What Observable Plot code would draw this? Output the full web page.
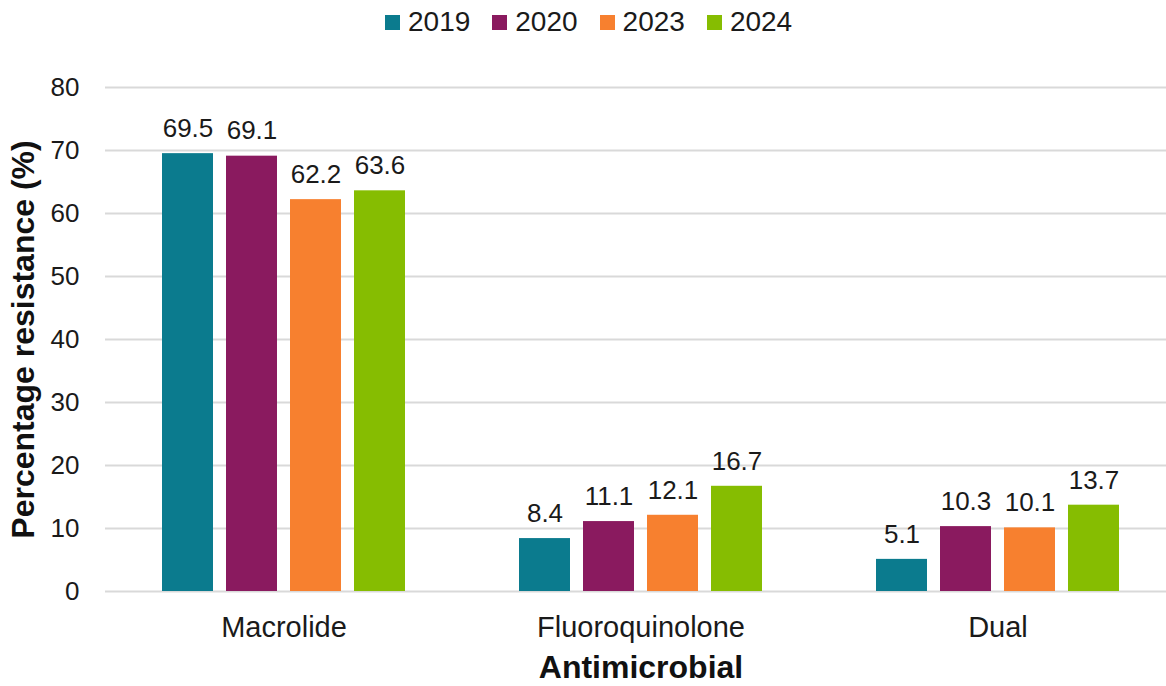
<!DOCTYPE html>
<html>
<head>
<meta charset="utf-8">
<script src="https://cdn.jsdelivr.net/npm/d3@7"></script>
<script src="https://cdn.jsdelivr.net/npm/@observablehq/plot@0.6"></script>
<style>
  html, body { margin: 0; padding: 0; background: #fff; overflow: hidden; }
  body { width: 1166px; height: 686px; font-family: "Liberation Sans", Arial, sans-serif; }
  #legend { height: 50px; display: flex; align-items: center; padding-left: 385px; padding-top: 8px; box-sizing: border-box; }
  div.lg-swatches .lg-swatch { margin-right: 22px !important; }
  div.lg-swatches .lg-swatch > svg { margin-right: 8px !important; }
  #xtitle { margin-left: 105px; width: 1072px; text-align: center; height: 41px; line-height: 44px;
            font-weight: bold; font-size: 32px; color: #111; }
  svg { overflow: visible; }
</style>
</head>
<body>
<div id="legend"></div>
<div id="chart"></div>
<div id="xtitle"></div>
<script>
// ---- data ----
const categories = ["Macrolide", "Fluoroquinolone", "Dual"];
const years = ["2019", "2020", "2023", "2024"];
const v2019 = [69.5, 8.4, 5.1];
const v2020 = [69.1, 11.1, 10.3];
const v2023 = [62.2, 12.1, 10.1];
const v2024 = [63.6, 16.7, 13.7];
const yTicks = [0, 10, 20, 30, 40, 50, 60, 70, 80];
const colors = ["#0b7b8e", "#8a1a5f", "#f7802f", "#86bd01"];
const xTitle = "Antimicrobial";
const yTitle = "Percentage resistance (%)";

const series = [v2019, v2020, v2023, v2024];
const table = [];
categories.forEach((c, i) => years.forEach((y, j) => table.push({category: c, year: y, value: series[j][i]})));

const font = "Liberation Sans, Arial, sans-serif";

const chart = Plot.plot({
  width: 1166,
  height: 595,
  marginTop: 37,
  marginBottom: 54,
  marginLeft: 105,
  marginRight: 0,
  style: {fontFamily: font, color: "#1a1a1a", background: "transparent"},
  fx: {domain: categories, range: [105, 1176.5], padding: 0, axis: null},
  x: {domain: years, paddingInner: 0.21, paddingOuter: 0.86, axis: null},
  y: {domain: [0, 80], axis: null},
  color: {domain: years, range: colors},
  marks: [
    Plot.ruleY(yTicks, {stroke: "#d9d9d9", strokeWidth: 2}),
    Plot.barY(table, {fx: "category", x: "year", y: "value", fill: "year"}),
    Plot.text(table, {fx: "category", x: "year", y: "value", text: d => d.value.toFixed(1),
      dy: -25, fontSize: 26, fill: "#1a1a1a"}),
    Plot.axisY({ticks: yTicks, tickSize: 0, tickPadding: 26, fontSize: 26, label: null, fill: "#1a1a1a"}),
    Plot.axisFx({anchor: "bottom", tickSize: 0, tickPadding: 25, fontSize: 29, label: null, fill: "#1a1a1a"}),
    Plot.text([yTitle], {fx: () => categories[0], text: d => d, frameAnchor: "left", textAnchor: "middle",
      rotate: -90, dx: -82, fontSize: 32, fontWeight: "bold", fill: "#111"})
  ]
});
document.getElementById("chart").appendChild(chart);

const legend = Plot.legend({
  color: {type: "ordinal", domain: years, range: colors},
  swatchSize: 15,
  className: "lg",
  style: {fontSize: "28px", fontFamily: font, color: "#1a1a1a"}
});
document.getElementById("legend").appendChild(legend);
document.getElementById("xtitle").textContent = xTitle;
</script>
</body>
</html>
